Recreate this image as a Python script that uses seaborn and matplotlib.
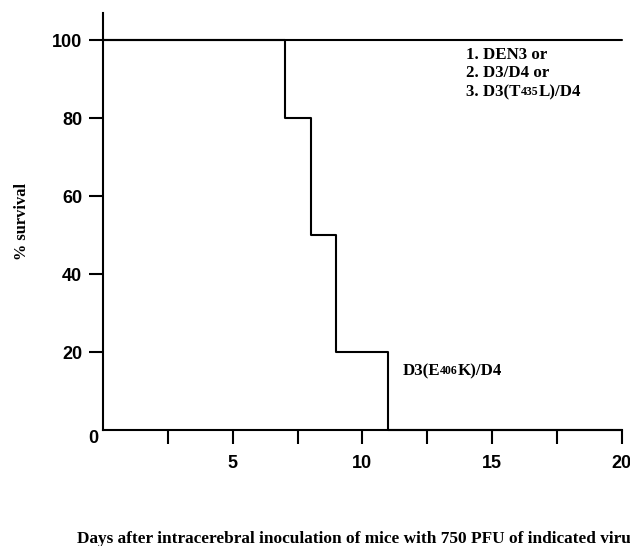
import pandas as pd
import seaborn as sns
import matplotlib.pyplot as plt
from matplotlib.transforms import ScaledTranslation

# survival curves (days after inoculation, % survival)
days_e406k = [0, 7, 8, 9, 11, 20]
surv_e406k = [100, 80, 50, 20, 0, 0]
days_other = [0, 20]
surv_other = [100, 100]

x_ticks_major = [5, 10, 15, 20]
x_ticks_minor = [2.5, 7.5, 12.5, 17.5]
y_ticks = [0, 20, 40, 60, 80, 100]

sns.set_style("ticks")
plt.rcParams['font.family'] = ['Liberation Sans', 'DejaVu Sans']
plt.rcParams['text.color'] = 'black'
plt.rcParams['axes.labelcolor'] = 'black'
plt.rcParams['xtick.color'] = 'black'
plt.rcParams['ytick.color'] = 'black'
plt.rcParams['axes.edgecolor'] = 'black'

fig = plt.figure(figsize=(6.3, 5.46), dpi=100)
ax = fig.add_axes([0.1635, 0.2125, 0.8235, 0.764])

df1 = pd.DataFrame({"day": days_e406k, "survival": surv_e406k})
df2 = pd.DataFrame({"day": days_other, "survival": surv_other})
sns.lineplot(data=df1, x="day", y="survival", color="black", linewidth=1.5,
             drawstyle="steps-post", ax=ax, clip_on=False)
sns.lineplot(data=df2, x="day", y="survival", color="black", linewidth=1.5,
             ax=ax, clip_on=False)

ax.set_xlim(0, 20)
ax.set_ylim(0, 107)
sns.despine(ax=ax)
for s in ["left", "bottom"]:
    ax.spines[s].set_linewidth(1.5)

ax.set_xticks(x_ticks_major)
ax.set_xticks(x_ticks_minor, minor=True)
ax.set_yticks(y_ticks)
ax.tick_params(axis="both", which="both", width=1.5, color="black", labelcolor="black")
ax.tick_params(axis="x", which="both", length=10, pad=8)
ax.tick_params(axis="y", length=10, pad=5)
for lab in ax.get_xticklabels() + ax.get_yticklabels():
    lab.set_fontweight("bold")
    lab.set_fontsize(13)
ax.get_yticklines()[0].set_visible(False)
# the "0" sits in the corner below the axis
zero = ax.get_yticklabels()[0]
zero.set_transform(zero.get_transform() + ScaledTranslation(16 / 100, -7 / 100, fig.dpi_scale_trans))

ax.set_xlabel("")
ax.set_ylabel("% survival", fontfamily="Liberation Serif", fontweight="bold",
              fontsize=11.8, labelpad=16)

serif = dict(fontfamily="Liberation Serif", fontweight="bold", fontsize=12.2)
small = dict(fontfamily="Liberation Serif", fontweight="bold", fontsize=8.5)

ax.text(14.0, 96.1, "1. DEN3 or", va="center", **serif)
ax.text(14.0, 91.5, "2. D3/D4 or", va="center", **serif)
t1 = ax.text(14.0, 86.7, "3. D3(T", va="center", **serif)
t2 = ax.annotate("435", xy=(1, 0), xycoords=t1, va="bottom", ha="left",
                 xytext=(0, 1.5), textcoords="offset points", **small)
ax.annotate("L)/D4", xy=(1, 0), xycoords=t2, va="bottom", ha="left",
            xytext=(0, -1.5), textcoords="offset points", **serif)

t3 = ax.text(11.55, 15.0, "D3(E", va="center", **serif)
t4 = ax.annotate("406", xy=(1, 0), xycoords=t3, va="bottom", ha="left",
                 xytext=(0, 1.5), textcoords="offset points", **small)
ax.annotate("K)/D4", xy=(1, 0), xycoords=t4, va="bottom", ha="left",
            xytext=(0, -1.5), textcoords="offset points", **serif)

fig.text(0.122, 0.012,
         "Days after intracerebral inoculation of mice with 750 PFU of indicated virus",
         ha="left", va="center", fontfamily="Liberation Serif",
         fontweight="bold", fontsize=12.4)

fig.savefig("out.png", dpi=100)
